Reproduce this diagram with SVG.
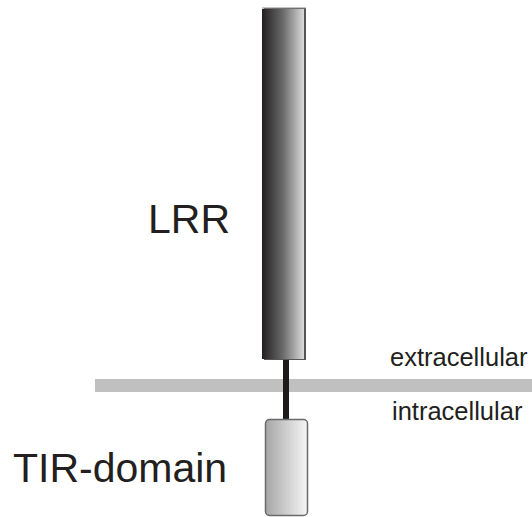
<svg xmlns="http://www.w3.org/2000/svg" width="532" height="517" viewBox="0 0 532 517">
  <defs>
    <linearGradient id="lrrGrad" x1="0" y1="0" x2="1" y2="0">
      <stop offset="0" stop-color="#231f20"/>
      <stop offset="0.5" stop-color="#6a6a6a"/>
      <stop offset="1" stop-color="#dadada"/>
    </linearGradient>
    <linearGradient id="tirGrad" x1="0" y1="0" x2="1" y2="0">
      <stop offset="0" stop-color="#a6a6a6"/>
      <stop offset="1" stop-color="#f6f6f6"/>
    </linearGradient>
  </defs>
  <style>
    .big { font-family: "Liberation Sans", Arial, sans-serif; font-size: 41px; fill: #231f20; }
    .small { font-family: "Liberation Sans", Arial, sans-serif; font-size: 25.5px; fill: #231f20; }
  </style>
  <g id="membrane">
    <rect x="95" y="379" width="437" height="13" fill="#c0c0c0"/>
  </g>
  <g id="connectors">
    <rect x="283" y="359" width="6" height="62" fill="#1e1a1a"/>
  </g>
  <g id="lrr">
    <rect x="264" y="8" width="42" height="352" fill="#555555"/>
    <rect x="262" y="9" width="42" height="350" fill="url(#lrrGrad)"/>
    <line x1="262" y1="8" x2="306" y2="8" stroke="#8a8a8a" stroke-width="1"/>
    <text class="big" x="148" y="233">LRR</text>
  </g>
  <g id="tir">
    <rect x="265.5" y="419.5" width="42" height="96" rx="4" ry="4" fill="url(#tirGrad)" stroke="#6a6a6a" stroke-width="1.5"/>
    <text class="big" x="13" y="482">TIR-domain</text>
  </g>
  <g id="labels">
    <text class="small" x="390" y="366">extracellular</text>
    <text class="small" x="392" y="420">intracellular</text>
  </g>
</svg>
